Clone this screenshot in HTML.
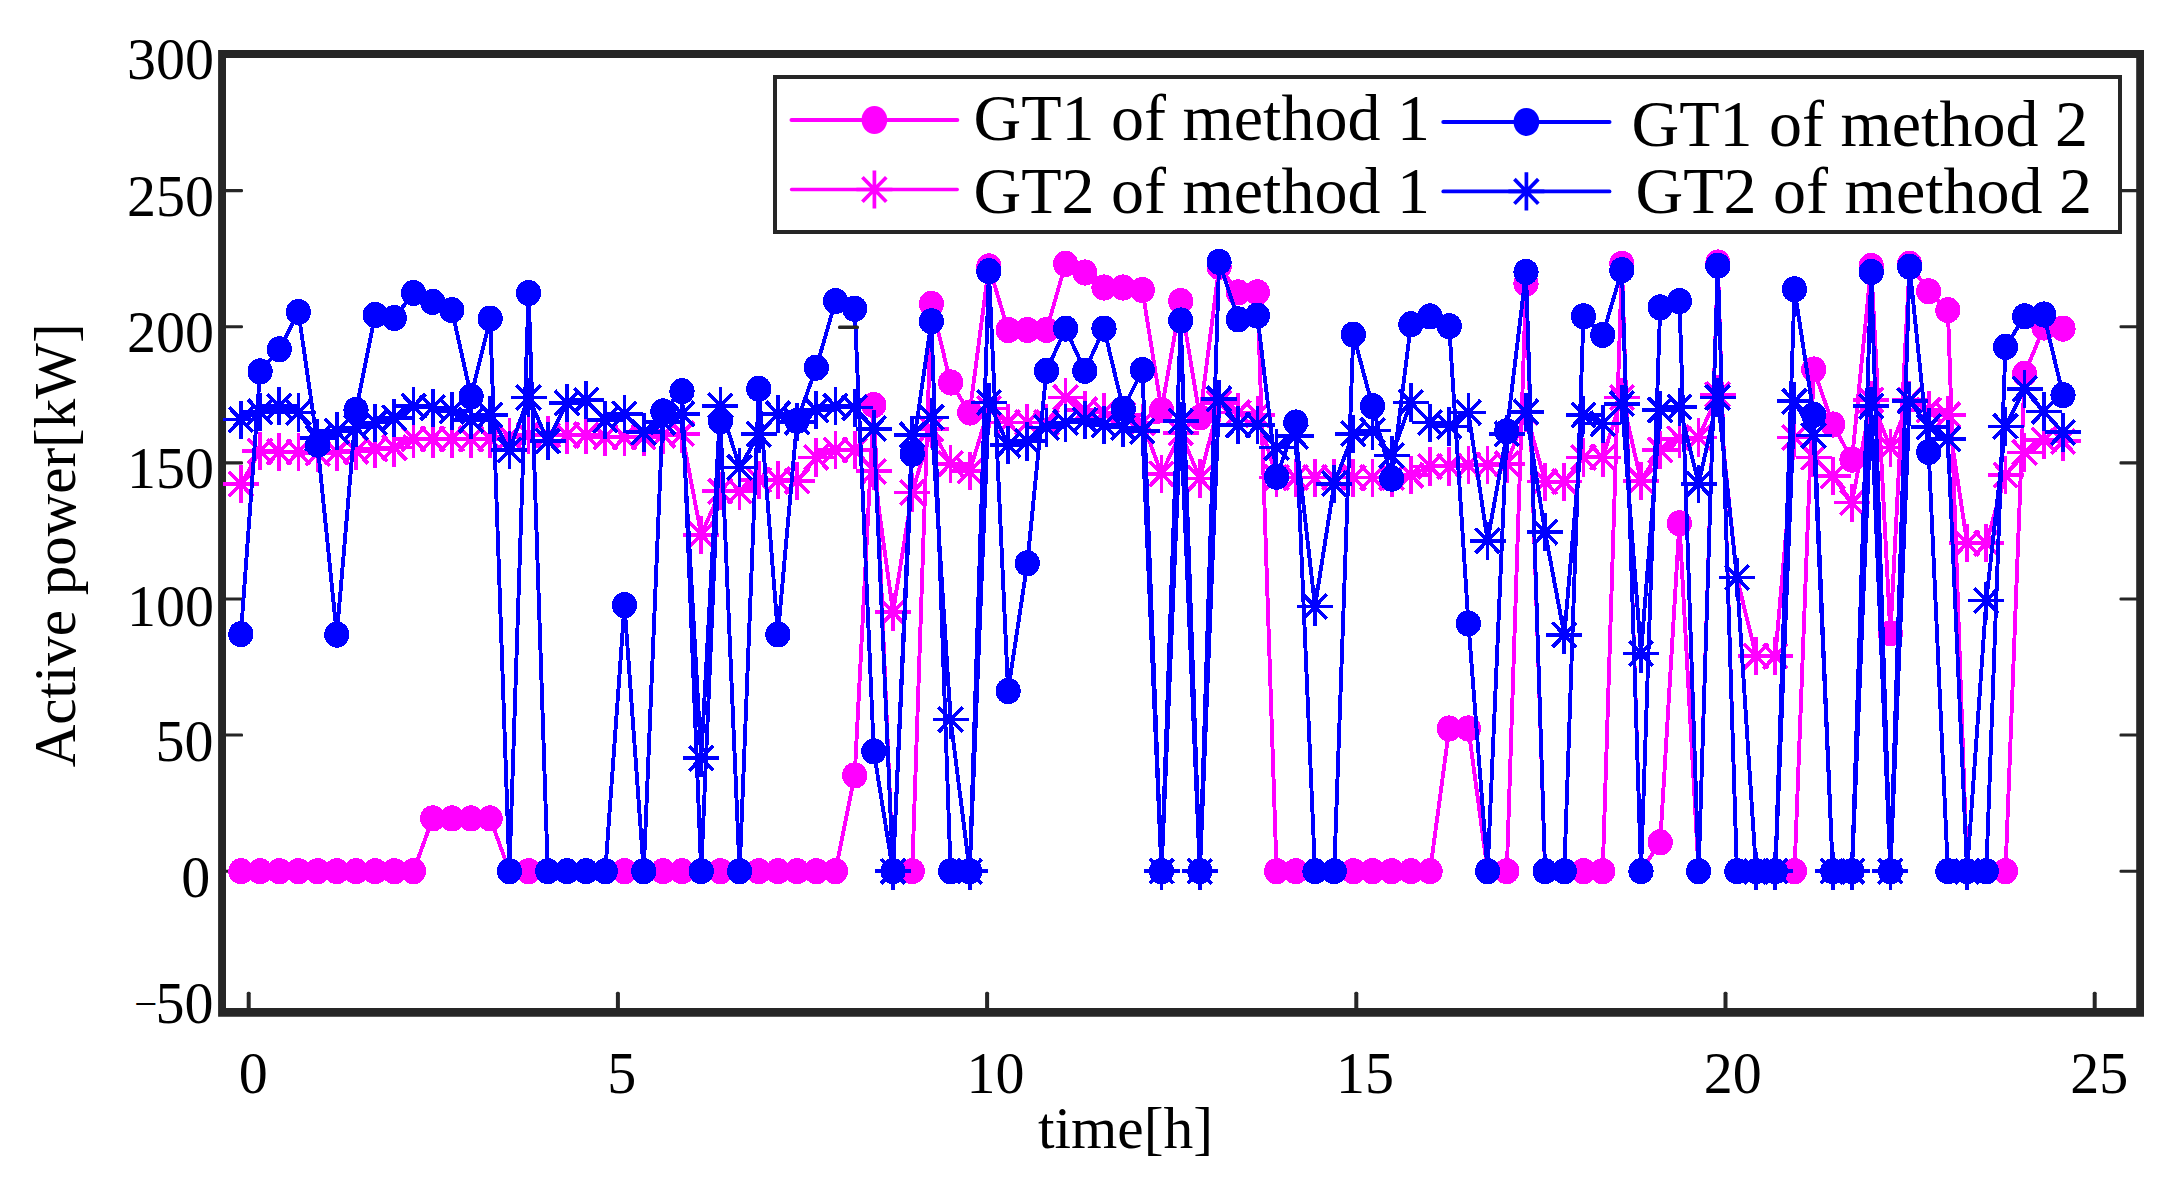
<!DOCTYPE html>
<html lang="en"><head><meta charset="utf-8"><title>Active power of GT1 and GT2</title>
<style>html,body{margin:0;padding:0;background:#fff;}body{width:2179px;height:1192px;overflow:hidden;}svg{display:block;}text{font-family:"Liberation Serif","Times New Roman",serif;fill:#000;}</style></head><body>
<svg width="2179" height="1192" viewBox="0 0 2179 1192">
<rect x="0" y="0" width="2179" height="1192" fill="#fff"/>
<path d="M218.1 50.1H2144V1016.8H218.1Z M226 57.9V1008.1H2136.2V57.9Z" fill="#262626" fill-rule="evenodd"/>
<rect x="246.7" y="991.8" width="4.0" height="18.0" rx="1.5" fill="#262626"/>
<rect x="615.9" y="991.8" width="4.0" height="18.0" rx="1.5" fill="#262626"/>
<rect x="985.1" y="991.8" width="4.0" height="18.0" rx="1.5" fill="#262626"/>
<rect x="1354.3" y="991.8" width="4.0" height="18.0" rx="1.5" fill="#262626"/>
<rect x="1723.5" y="991.8" width="4.0" height="18.0" rx="1.5" fill="#262626"/>
<rect x="2092.7" y="991.8" width="4.0" height="18.0" rx="1.5" fill="#262626"/>
<rect x="224.0" y="869.7" width="19.0" height="3.1" rx="1.2" fill="#262626"/>
<rect x="2119.5" y="869.7" width="19.0" height="3.1" rx="1.2" fill="#262626"/>
<rect x="224.0" y="733.5" width="19.0" height="3.1" rx="1.2" fill="#262626"/>
<rect x="2119.5" y="733.5" width="19.0" height="3.1" rx="1.2" fill="#262626"/>
<rect x="224.0" y="597.4" width="19.0" height="3.1" rx="1.2" fill="#262626"/>
<rect x="2119.5" y="597.4" width="19.0" height="3.1" rx="1.2" fill="#262626"/>
<rect x="224.0" y="461.3" width="19.0" height="3.1" rx="1.2" fill="#262626"/>
<rect x="2119.5" y="461.3" width="19.0" height="3.1" rx="1.2" fill="#262626"/>
<rect x="224.0" y="325.2" width="19.0" height="3.1" rx="1.2" fill="#262626"/>
<rect x="2119.5" y="325.2" width="19.0" height="3.1" rx="1.2" fill="#262626"/>
<rect x="224.0" y="189.1" width="19.0" height="3.1" rx="1.2" fill="#262626"/>
<rect x="2119.5" y="189.1" width="19.0" height="3.1" rx="1.2" fill="#262626"/>
<g shape-rendering="crispEdges">
<g stroke="#ff00ff" fill="#ff00ff">
<polyline points="240.9,871.2 260.1,871.2 279.3,871.2 298.4,871.2 317.6,871.2 336.8,871.2 356.0,871.2 375.2,871.2 394.3,871.2 413.5,871.2 432.7,818.4 451.9,818.4 471.1,818.4 490.2,818.4 509.4,871.2 528.6,871.2 547.8,871.2 567.0,871.2 586.1,871.2 605.3,871.2 624.5,871.2 643.7,871.2 662.9,871.2 682.0,871.2 701.2,871.2 720.4,871.2 739.6,871.2 758.8,871.2 777.9,871.2 797.1,871.2 816.3,871.2 835.5,871.2 854.7,775.4 873.8,405.1 893.0,871.2 912.2,871.2 931.4,303.9 950.6,382.5 969.7,412.5 988.9,266.3 1008.1,330.0 1027.3,330.0 1046.5,330.0 1065.6,263.8 1084.8,272.5 1104.0,287.5 1123.2,287.5 1142.4,290.0 1161.5,410.0 1180.7,301.1 1199.9,417.4 1219.1,266.8 1238.3,292.4 1257.4,292.4 1276.6,871.2 1295.8,871.2 1315.0,871.2 1334.2,871.2 1353.3,871.2 1372.5,871.2 1391.7,871.2 1410.9,871.2 1430.1,871.2 1449.2,728.5 1468.4,728.5 1487.6,871.2 1506.8,871.2 1526.0,283.7 1545.1,871.2 1564.3,871.2 1583.5,871.2 1602.7,871.2 1621.9,263.8 1641.0,871.2 1660.2,842.3 1679.4,523.3 1698.6,871.2 1717.8,262.5 1736.9,871.2 1756.1,871.2 1775.3,871.2 1794.5,871.2 1813.7,369.5 1832.8,424.5 1852.0,459.6 1871.2,266.0 1890.4,633.3 1909.6,263.8 1928.7,291.3 1947.9,310.1 1967.1,871.2 1986.3,871.2 2005.5,871.2 2024.6,373.8 2043.8,327.5 2063.0,328.6" fill="none" stroke-width="3.90" stroke-linejoin="round"/>
<ellipse cx="240.9" cy="871.2" rx="12.6" ry="13.1" stroke="none"/>
<ellipse cx="260.1" cy="871.2" rx="12.6" ry="13.1" stroke="none"/>
<ellipse cx="279.3" cy="871.2" rx="12.6" ry="13.1" stroke="none"/>
<ellipse cx="298.4" cy="871.2" rx="12.6" ry="13.1" stroke="none"/>
<ellipse cx="317.6" cy="871.2" rx="12.6" ry="13.1" stroke="none"/>
<ellipse cx="336.8" cy="871.2" rx="12.6" ry="13.1" stroke="none"/>
<ellipse cx="356.0" cy="871.2" rx="12.6" ry="13.1" stroke="none"/>
<ellipse cx="375.2" cy="871.2" rx="12.6" ry="13.1" stroke="none"/>
<ellipse cx="394.3" cy="871.2" rx="12.6" ry="13.1" stroke="none"/>
<ellipse cx="413.5" cy="871.2" rx="12.6" ry="13.1" stroke="none"/>
<ellipse cx="432.7" cy="818.4" rx="12.6" ry="13.1" stroke="none"/>
<ellipse cx="451.9" cy="818.4" rx="12.6" ry="13.1" stroke="none"/>
<ellipse cx="471.1" cy="818.4" rx="12.6" ry="13.1" stroke="none"/>
<ellipse cx="490.2" cy="818.4" rx="12.6" ry="13.1" stroke="none"/>
<ellipse cx="509.4" cy="871.2" rx="12.6" ry="13.1" stroke="none"/>
<ellipse cx="528.6" cy="871.2" rx="12.6" ry="13.1" stroke="none"/>
<ellipse cx="547.8" cy="871.2" rx="12.6" ry="13.1" stroke="none"/>
<ellipse cx="567.0" cy="871.2" rx="12.6" ry="13.1" stroke="none"/>
<ellipse cx="586.1" cy="871.2" rx="12.6" ry="13.1" stroke="none"/>
<ellipse cx="605.3" cy="871.2" rx="12.6" ry="13.1" stroke="none"/>
<ellipse cx="624.5" cy="871.2" rx="12.6" ry="13.1" stroke="none"/>
<ellipse cx="643.7" cy="871.2" rx="12.6" ry="13.1" stroke="none"/>
<ellipse cx="662.9" cy="871.2" rx="12.6" ry="13.1" stroke="none"/>
<ellipse cx="682.0" cy="871.2" rx="12.6" ry="13.1" stroke="none"/>
<ellipse cx="701.2" cy="871.2" rx="12.6" ry="13.1" stroke="none"/>
<ellipse cx="720.4" cy="871.2" rx="12.6" ry="13.1" stroke="none"/>
<ellipse cx="739.6" cy="871.2" rx="12.6" ry="13.1" stroke="none"/>
<ellipse cx="758.8" cy="871.2" rx="12.6" ry="13.1" stroke="none"/>
<ellipse cx="777.9" cy="871.2" rx="12.6" ry="13.1" stroke="none"/>
<ellipse cx="797.1" cy="871.2" rx="12.6" ry="13.1" stroke="none"/>
<ellipse cx="816.3" cy="871.2" rx="12.6" ry="13.1" stroke="none"/>
<ellipse cx="835.5" cy="871.2" rx="12.6" ry="13.1" stroke="none"/>
<ellipse cx="854.7" cy="775.4" rx="12.6" ry="13.1" stroke="none"/>
<ellipse cx="873.8" cy="405.1" rx="12.6" ry="13.1" stroke="none"/>
<ellipse cx="893.0" cy="871.2" rx="12.6" ry="13.1" stroke="none"/>
<ellipse cx="912.2" cy="871.2" rx="12.6" ry="13.1" stroke="none"/>
<ellipse cx="931.4" cy="303.9" rx="12.6" ry="13.1" stroke="none"/>
<ellipse cx="950.6" cy="382.5" rx="12.6" ry="13.1" stroke="none"/>
<ellipse cx="969.7" cy="412.5" rx="12.6" ry="13.1" stroke="none"/>
<ellipse cx="988.9" cy="266.3" rx="12.6" ry="13.1" stroke="none"/>
<ellipse cx="1008.1" cy="330.0" rx="12.6" ry="13.1" stroke="none"/>
<ellipse cx="1027.3" cy="330.0" rx="12.6" ry="13.1" stroke="none"/>
<ellipse cx="1046.5" cy="330.0" rx="12.6" ry="13.1" stroke="none"/>
<ellipse cx="1065.6" cy="263.8" rx="12.6" ry="13.1" stroke="none"/>
<ellipse cx="1084.8" cy="272.5" rx="12.6" ry="13.1" stroke="none"/>
<ellipse cx="1104.0" cy="287.5" rx="12.6" ry="13.1" stroke="none"/>
<ellipse cx="1123.2" cy="287.5" rx="12.6" ry="13.1" stroke="none"/>
<ellipse cx="1142.4" cy="290.0" rx="12.6" ry="13.1" stroke="none"/>
<ellipse cx="1161.5" cy="410.0" rx="12.6" ry="13.1" stroke="none"/>
<ellipse cx="1180.7" cy="301.1" rx="12.6" ry="13.1" stroke="none"/>
<ellipse cx="1199.9" cy="417.4" rx="12.6" ry="13.1" stroke="none"/>
<ellipse cx="1219.1" cy="266.8" rx="12.6" ry="13.1" stroke="none"/>
<ellipse cx="1238.3" cy="292.4" rx="12.6" ry="13.1" stroke="none"/>
<ellipse cx="1257.4" cy="292.4" rx="12.6" ry="13.1" stroke="none"/>
<ellipse cx="1276.6" cy="871.2" rx="12.6" ry="13.1" stroke="none"/>
<ellipse cx="1295.8" cy="871.2" rx="12.6" ry="13.1" stroke="none"/>
<ellipse cx="1315.0" cy="871.2" rx="12.6" ry="13.1" stroke="none"/>
<ellipse cx="1334.2" cy="871.2" rx="12.6" ry="13.1" stroke="none"/>
<ellipse cx="1353.3" cy="871.2" rx="12.6" ry="13.1" stroke="none"/>
<ellipse cx="1372.5" cy="871.2" rx="12.6" ry="13.1" stroke="none"/>
<ellipse cx="1391.7" cy="871.2" rx="12.6" ry="13.1" stroke="none"/>
<ellipse cx="1410.9" cy="871.2" rx="12.6" ry="13.1" stroke="none"/>
<ellipse cx="1430.1" cy="871.2" rx="12.6" ry="13.1" stroke="none"/>
<ellipse cx="1449.2" cy="728.5" rx="12.6" ry="13.1" stroke="none"/>
<ellipse cx="1468.4" cy="728.5" rx="12.6" ry="13.1" stroke="none"/>
<ellipse cx="1487.6" cy="871.2" rx="12.6" ry="13.1" stroke="none"/>
<ellipse cx="1506.8" cy="871.2" rx="12.6" ry="13.1" stroke="none"/>
<ellipse cx="1526.0" cy="283.7" rx="12.6" ry="13.1" stroke="none"/>
<ellipse cx="1545.1" cy="871.2" rx="12.6" ry="13.1" stroke="none"/>
<ellipse cx="1564.3" cy="871.2" rx="12.6" ry="13.1" stroke="none"/>
<ellipse cx="1583.5" cy="871.2" rx="12.6" ry="13.1" stroke="none"/>
<ellipse cx="1602.7" cy="871.2" rx="12.6" ry="13.1" stroke="none"/>
<ellipse cx="1621.9" cy="263.8" rx="12.6" ry="13.1" stroke="none"/>
<ellipse cx="1641.0" cy="871.2" rx="12.6" ry="13.1" stroke="none"/>
<ellipse cx="1660.2" cy="842.3" rx="12.6" ry="13.1" stroke="none"/>
<ellipse cx="1679.4" cy="523.3" rx="12.6" ry="13.1" stroke="none"/>
<ellipse cx="1698.6" cy="871.2" rx="12.6" ry="13.1" stroke="none"/>
<ellipse cx="1717.8" cy="262.5" rx="12.6" ry="13.1" stroke="none"/>
<ellipse cx="1736.9" cy="871.2" rx="12.6" ry="13.1" stroke="none"/>
<ellipse cx="1756.1" cy="871.2" rx="12.6" ry="13.1" stroke="none"/>
<ellipse cx="1775.3" cy="871.2" rx="12.6" ry="13.1" stroke="none"/>
<ellipse cx="1794.5" cy="871.2" rx="12.6" ry="13.1" stroke="none"/>
<ellipse cx="1813.7" cy="369.5" rx="12.6" ry="13.1" stroke="none"/>
<ellipse cx="1832.8" cy="424.5" rx="12.6" ry="13.1" stroke="none"/>
<ellipse cx="1852.0" cy="459.6" rx="12.6" ry="13.1" stroke="none"/>
<ellipse cx="1871.2" cy="266.0" rx="12.6" ry="13.1" stroke="none"/>
<ellipse cx="1890.4" cy="633.3" rx="12.6" ry="13.1" stroke="none"/>
<ellipse cx="1909.6" cy="263.8" rx="12.6" ry="13.1" stroke="none"/>
<ellipse cx="1928.7" cy="291.3" rx="12.6" ry="13.1" stroke="none"/>
<ellipse cx="1947.9" cy="310.1" rx="12.6" ry="13.1" stroke="none"/>
<ellipse cx="1967.1" cy="871.2" rx="12.6" ry="13.1" stroke="none"/>
<ellipse cx="1986.3" cy="871.2" rx="12.6" ry="13.1" stroke="none"/>
<ellipse cx="2005.5" cy="871.2" rx="12.6" ry="13.1" stroke="none"/>
<ellipse cx="2024.6" cy="373.8" rx="12.6" ry="13.1" stroke="none"/>
<ellipse cx="2043.8" cy="327.5" rx="12.6" ry="13.1" stroke="none"/>
<ellipse cx="2063.0" cy="328.6" rx="12.6" ry="13.1" stroke="none"/>
</g>
<g stroke="#ff00ff" fill="#ff00ff">
<polyline points="240.9,484.1 260.1,451.1 279.3,452.0 298.4,452.0 317.6,453.3 336.8,452.0 356.0,451.1 375.2,448.7 394.3,447.6 413.5,438.9 432.7,438.9 451.9,438.9 471.1,438.9 490.2,438.9 509.4,437.0 528.6,435.1 547.8,435.1 567.0,435.1 586.1,435.1 605.3,437.0 624.5,437.0 643.7,437.0 662.9,435.1 682.0,433.7 701.2,534.7 720.4,491.2 739.6,491.2 758.8,480.0 777.9,480.0 797.1,481.1 816.3,457.4 835.5,450.0 854.7,450.0 873.8,471.3 893.0,612.3 912.2,492.5 931.4,428.8 950.6,463.7 969.7,471.3 988.9,408.4 1008.1,422.5 1027.3,422.5 1046.5,422.5 1065.6,397.5 1084.8,410.0 1104.0,412.5 1123.2,414.9 1142.4,422.5 1161.5,473.7 1180.7,432.9 1199.9,478.4 1219.1,402.9 1238.3,412.5 1257.4,414.9 1276.6,477.5 1295.8,477.5 1315.0,477.5 1334.2,477.5 1353.3,477.5 1372.5,477.5 1391.7,477.5 1410.9,475.1 1430.1,466.4 1449.2,466.4 1468.4,465.0 1487.6,465.0 1506.8,463.7 1526.0,412.5 1545.1,481.6 1564.3,481.6 1583.5,457.4 1602.7,457.4 1621.9,397.5 1641.0,480.8 1660.2,450.0 1679.4,438.9 1698.6,437.5 1717.8,394.5 1736.9,577.5 1756.1,656.1 1775.3,656.1 1794.5,437.5 1813.7,457.4 1832.8,476.2 1852.0,502.6 1871.2,400.2 1890.4,447.6 1909.6,400.2 1928.7,410.0 1947.9,414.9 1967.1,543.2 1986.3,543.2 2005.5,475.1 2024.6,452.5 2043.8,440.0 2063.0,441.3" fill="none" stroke-width="3.90" stroke-linejoin="round"/>
<path d="M222.9 484.1h36.0M240.9 465.0v38.2M228.9 471.8l23.9 24.6M228.9 496.4l23.9 -24.6M242.1 451.1h36.0M260.1 432.1v38.2M248.1 438.8l23.9 24.6M248.1 463.5l23.9 -24.6M261.3 452.0h36.0M279.3 432.9v38.2M267.3 439.6l23.9 24.6M267.3 464.3l23.9 -24.6M280.4 452.0h36.0M298.4 432.9v38.2M286.5 439.6l23.9 24.6M286.5 464.3l23.9 -24.6M299.6 453.3h36.0M317.6 434.2v38.2M305.7 441.0l23.9 24.6M305.7 465.6l23.9 -24.6M318.8 452.0h36.0M336.8 432.9v38.2M324.8 439.6l23.9 24.6M324.8 464.3l23.9 -24.6M338.0 451.1h36.0M356.0 432.1v38.2M344.0 438.8l23.9 24.6M344.0 463.5l23.9 -24.6M357.2 448.7h36.0M375.2 429.6v38.2M363.2 436.4l23.9 24.6M363.2 461.0l23.9 -24.6M376.3 447.6h36.0M394.3 428.5v38.2M382.4 435.3l23.9 24.6M382.4 459.9l23.9 -24.6M395.5 438.9h36.0M413.5 419.8v38.2M401.6 426.6l23.9 24.6M401.6 451.2l23.9 -24.6M414.7 438.9h36.0M432.7 419.8v38.2M420.7 426.6l23.9 24.6M420.7 451.2l23.9 -24.6M433.9 438.9h36.0M451.9 419.8v38.2M439.9 426.6l23.9 24.6M439.9 451.2l23.9 -24.6M453.1 438.9h36.0M471.1 419.8v38.2M459.1 426.6l23.9 24.6M459.1 451.2l23.9 -24.6M472.2 438.9h36.0M490.2 419.8v38.2M478.3 426.6l23.9 24.6M478.3 451.2l23.9 -24.6M491.4 437.0h36.0M509.4 417.9v38.2M497.5 424.7l23.9 24.6M497.5 449.3l23.9 -24.6M510.6 435.1h36.0M528.6 416.0v38.2M516.6 422.7l23.9 24.6M516.6 447.4l23.9 -24.6M529.8 435.1h36.0M547.8 416.0v38.2M535.8 422.7l23.9 24.6M535.8 447.4l23.9 -24.6M549.0 435.1h36.0M567.0 416.0v38.2M555.0 422.7l23.9 24.6M555.0 447.4l23.9 -24.6M568.1 435.1h36.0M586.1 416.0v38.2M574.2 422.7l23.9 24.6M574.2 447.4l23.9 -24.6M587.3 437.0h36.0M605.3 417.9v38.2M593.4 424.7l23.9 24.6M593.4 449.3l23.9 -24.6M606.5 437.0h36.0M624.5 417.9v38.2M612.5 424.7l23.9 24.6M612.5 449.3l23.9 -24.6M625.7 437.0h36.0M643.7 417.9v38.2M631.7 424.7l23.9 24.6M631.7 449.3l23.9 -24.6M644.9 435.1h36.0M662.9 416.0v38.2M650.9 422.7l23.9 24.6M650.9 447.4l23.9 -24.6M664.0 433.7h36.0M682.0 414.6v38.2M670.1 421.4l23.9 24.6M670.1 446.0l23.9 -24.6M683.2 534.7h36.0M701.2 515.6v38.2M689.3 522.4l23.9 24.6M689.3 547.0l23.9 -24.6M702.4 491.2h36.0M720.4 472.1v38.2M708.4 478.8l23.9 24.6M708.4 503.5l23.9 -24.6M721.6 491.2h36.0M739.6 472.1v38.2M727.6 478.8l23.9 24.6M727.6 503.5l23.9 -24.6M740.8 480.0h36.0M758.8 460.9v38.2M746.8 467.7l23.9 24.6M746.8 492.3l23.9 -24.6M759.9 480.0h36.0M777.9 460.9v38.2M766.0 467.7l23.9 24.6M766.0 492.3l23.9 -24.6M779.1 481.1h36.0M797.1 462.0v38.2M785.2 468.8l23.9 24.6M785.2 493.4l23.9 -24.6M798.3 457.4h36.0M816.3 438.3v38.2M804.3 445.1l23.9 24.6M804.3 469.7l23.9 -24.6M817.5 450.0h36.0M835.5 431.0v38.2M823.5 437.7l23.9 24.6M823.5 462.4l23.9 -24.6M836.7 450.0h36.0M854.7 431.0v38.2M842.7 437.7l23.9 24.6M842.7 462.4l23.9 -24.6M855.8 471.3h36.0M873.8 452.2v38.2M861.9 459.0l23.9 24.6M861.9 483.6l23.9 -24.6M875.0 612.3h36.0M893.0 593.2v38.2M881.1 600.0l23.9 24.6M881.1 624.6l23.9 -24.6M894.2 492.5h36.0M912.2 473.4v38.2M900.2 480.2l23.9 24.6M900.2 504.8l23.9 -24.6M913.4 428.8h36.0M931.4 409.7v38.2M919.4 416.5l23.9 24.6M919.4 441.1l23.9 -24.6M932.6 463.7h36.0M950.6 444.6v38.2M938.6 451.3l23.9 24.6M938.6 476.0l23.9 -24.6M951.7 471.3h36.0M969.7 452.2v38.2M957.8 459.0l23.9 24.6M957.8 483.6l23.9 -24.6M970.9 408.4h36.0M988.9 389.3v38.2M977.0 396.1l23.9 24.6M977.0 420.7l23.9 -24.6M990.1 422.5h36.0M1008.1 403.5v38.2M996.1 410.2l23.9 24.6M996.1 434.9l23.9 -24.6M1009.3 422.5h36.0M1027.3 403.5v38.2M1015.3 410.2l23.9 24.6M1015.3 434.9l23.9 -24.6M1028.5 422.5h36.0M1046.5 403.5v38.2M1034.5 410.2l23.9 24.6M1034.5 434.9l23.9 -24.6M1047.6 397.5h36.0M1065.6 378.4v38.2M1053.7 385.2l23.9 24.6M1053.7 409.8l23.9 -24.6M1066.8 410.0h36.0M1084.8 390.9v38.2M1072.9 397.7l23.9 24.6M1072.9 422.3l23.9 -24.6M1086.0 412.5h36.0M1104.0 393.4v38.2M1092.0 400.2l23.9 24.6M1092.0 424.8l23.9 -24.6M1105.2 414.9h36.0M1123.2 395.8v38.2M1111.2 402.6l23.9 24.6M1111.2 427.2l23.9 -24.6M1124.4 422.5h36.0M1142.4 403.5v38.2M1130.4 410.2l23.9 24.6M1130.4 434.9l23.9 -24.6M1143.5 473.7h36.0M1161.5 454.6v38.2M1149.6 461.4l23.9 24.6M1149.6 486.1l23.9 -24.6M1162.7 432.9h36.0M1180.7 413.8v38.2M1168.8 420.6l23.9 24.6M1168.8 445.2l23.9 -24.6M1181.9 478.4h36.0M1199.9 459.3v38.2M1187.9 466.0l23.9 24.6M1187.9 490.7l23.9 -24.6M1201.1 402.9h36.0M1219.1 383.9v38.2M1207.1 390.6l23.9 24.6M1207.1 415.3l23.9 -24.6M1220.3 412.5h36.0M1238.3 393.4v38.2M1226.3 400.2l23.9 24.6M1226.3 424.8l23.9 -24.6M1239.4 414.9h36.0M1257.4 395.8v38.2M1245.5 402.6l23.9 24.6M1245.5 427.2l23.9 -24.6M1258.6 477.5h36.0M1276.6 458.5v38.2M1264.7 465.2l23.9 24.6M1264.7 489.9l23.9 -24.6M1277.8 477.5h36.0M1295.8 458.5v38.2M1283.8 465.2l23.9 24.6M1283.8 489.9l23.9 -24.6M1297.0 477.5h36.0M1315.0 458.5v38.2M1303.0 465.2l23.9 24.6M1303.0 489.9l23.9 -24.6M1316.2 477.5h36.0M1334.2 458.5v38.2M1322.2 465.2l23.9 24.6M1322.2 489.9l23.9 -24.6M1335.3 477.5h36.0M1353.3 458.5v38.2M1341.4 465.2l23.9 24.6M1341.4 489.9l23.9 -24.6M1354.5 477.5h36.0M1372.5 458.5v38.2M1360.6 465.2l23.9 24.6M1360.6 489.9l23.9 -24.6M1373.7 477.5h36.0M1391.7 458.5v38.2M1379.7 465.2l23.9 24.6M1379.7 489.9l23.9 -24.6M1392.9 475.1h36.0M1410.9 456.0v38.2M1398.9 462.8l23.9 24.6M1398.9 487.4l23.9 -24.6M1412.1 466.4h36.0M1430.1 447.3v38.2M1418.1 454.1l23.9 24.6M1418.1 478.7l23.9 -24.6M1431.2 466.4h36.0M1449.2 447.3v38.2M1437.3 454.1l23.9 24.6M1437.3 478.7l23.9 -24.6M1450.4 465.0h36.0M1468.4 445.9v38.2M1456.5 452.7l23.9 24.6M1456.5 477.3l23.9 -24.6M1469.6 465.0h36.0M1487.6 445.9v38.2M1475.6 452.7l23.9 24.6M1475.6 477.3l23.9 -24.6M1488.8 463.7h36.0M1506.8 444.6v38.2M1494.8 451.3l23.9 24.6M1494.8 476.0l23.9 -24.6M1508.0 412.5h36.0M1526.0 393.4v38.2M1514.0 400.2l23.9 24.6M1514.0 424.8l23.9 -24.6M1527.1 481.6h36.0M1545.1 462.5v38.2M1533.2 469.3l23.9 24.6M1533.2 493.9l23.9 -24.6M1546.3 481.6h36.0M1564.3 462.5v38.2M1552.4 469.3l23.9 24.6M1552.4 493.9l23.9 -24.6M1565.5 457.4h36.0M1583.5 438.3v38.2M1571.5 445.1l23.9 24.6M1571.5 469.7l23.9 -24.6M1584.7 457.4h36.0M1602.7 438.3v38.2M1590.7 445.1l23.9 24.6M1590.7 469.7l23.9 -24.6M1603.9 397.5h36.0M1621.9 378.4v38.2M1609.9 385.2l23.9 24.6M1609.9 409.8l23.9 -24.6M1623.0 480.8h36.0M1641.0 461.7v38.2M1629.1 468.5l23.9 24.6M1629.1 493.1l23.9 -24.6M1642.2 450.0h36.0M1660.2 431.0v38.2M1648.3 437.7l23.9 24.6M1648.3 462.4l23.9 -24.6M1661.4 438.9h36.0M1679.4 419.8v38.2M1667.4 426.6l23.9 24.6M1667.4 451.2l23.9 -24.6M1680.6 437.5h36.0M1698.6 418.4v38.2M1686.6 425.2l23.9 24.6M1686.6 449.8l23.9 -24.6M1699.8 394.5h36.0M1717.8 375.4v38.2M1705.8 382.2l23.9 24.6M1705.8 406.8l23.9 -24.6M1718.9 577.5h36.0M1736.9 558.4v38.2M1725.0 565.1l23.9 24.6M1725.0 589.8l23.9 -24.6M1738.1 656.1h36.0M1756.1 637.1v38.2M1744.2 643.8l23.9 24.6M1744.2 668.5l23.9 -24.6M1757.3 656.1h36.0M1775.3 637.1v38.2M1763.3 643.8l23.9 24.6M1763.3 668.5l23.9 -24.6M1776.5 437.5h36.0M1794.5 418.4v38.2M1782.5 425.2l23.9 24.6M1782.5 449.8l23.9 -24.6M1795.7 457.4h36.0M1813.7 438.3v38.2M1801.7 445.1l23.9 24.6M1801.7 469.7l23.9 -24.6M1814.8 476.2h36.0M1832.8 457.1v38.2M1820.9 463.9l23.9 24.6M1820.9 488.5l23.9 -24.6M1834.0 502.6h36.0M1852.0 483.5v38.2M1840.1 490.3l23.9 24.6M1840.1 514.9l23.9 -24.6M1853.2 400.2h36.0M1871.2 381.1v38.2M1859.2 387.9l23.9 24.6M1859.2 412.5l23.9 -24.6M1872.4 447.6h36.0M1890.4 428.5v38.2M1878.4 435.3l23.9 24.6M1878.4 459.9l23.9 -24.6M1891.6 400.2h36.0M1909.6 381.1v38.2M1897.6 387.9l23.9 24.6M1897.6 412.5l23.9 -24.6M1910.7 410.0h36.0M1928.7 390.9v38.2M1916.8 397.7l23.9 24.6M1916.8 422.3l23.9 -24.6M1929.9 414.9h36.0M1947.9 395.8v38.2M1936.0 402.6l23.9 24.6M1936.0 427.2l23.9 -24.6M1949.1 543.2h36.0M1967.1 524.1v38.2M1955.1 530.8l23.9 24.6M1955.1 555.5l23.9 -24.6M1968.3 543.2h36.0M1986.3 524.1v38.2M1974.3 530.8l23.9 24.6M1974.3 555.5l23.9 -24.6M1987.5 475.1h36.0M2005.5 456.0v38.2M1993.5 462.8l23.9 24.6M1993.5 487.4l23.9 -24.6M2006.6 452.5h36.0M2024.6 433.4v38.2M2012.7 440.2l23.9 24.6M2012.7 464.8l23.9 -24.6M2025.8 440.0h36.0M2043.8 420.9v38.2M2031.9 427.6l23.9 24.6M2031.9 452.3l23.9 -24.6M2045.0 441.3h36.0M2063.0 422.3v38.2M2051.0 429.0l23.9 24.6M2051.0 453.7l23.9 -24.6" fill="none" stroke-width="3.70"/>
</g>
<g stroke="#0000ff" fill="#0000ff">
<polyline points="240.9,634.1 260.1,371.4 279.3,349.3 298.4,312.0 317.6,444.6 336.8,634.6 356.0,410.0 375.2,315.0 394.3,318.0 413.5,293.0 432.7,301.9 451.9,310.1 471.1,396.4 490.2,318.6 509.4,871.2 528.6,293.0 547.8,871.2 567.0,871.2 586.1,871.2 605.3,871.2 624.5,605.2 643.7,871.2 662.9,411.4 682.0,391.2 701.2,871.2 720.4,421.2 739.6,871.2 758.8,388.8 777.9,634.4 797.1,420.9 816.3,367.6 835.5,301.1 854.7,308.8 873.8,751.4 893.0,871.2 912.2,453.9 931.4,321.3 950.6,871.2 969.7,871.2 988.9,271.2 1008.1,691.0 1027.3,563.3 1046.5,370.8 1065.6,328.6 1084.8,370.8 1104.0,328.6 1123.2,408.7 1142.4,370.0 1161.5,871.2 1180.7,320.5 1199.9,871.2 1219.1,261.9 1238.3,319.4 1257.4,315.6 1276.6,476.7 1295.8,422.5 1315.0,871.2 1334.2,871.2 1353.3,334.6 1372.5,406.2 1391.7,478.6 1410.9,324.3 1430.1,316.4 1449.2,326.2 1468.4,623.5 1487.6,871.2 1506.8,431.3 1526.0,272.0 1545.1,871.2 1564.3,871.2 1583.5,316.4 1602.7,334.9 1621.9,270.1 1641.0,871.2 1660.2,307.4 1679.4,301.1 1698.6,871.2 1717.8,265.7 1736.9,871.2 1756.1,871.2 1775.3,871.2 1794.5,289.4 1813.7,414.9 1832.8,871.2 1852.0,871.2 1871.2,272.0 1890.4,871.2 1909.6,266.6 1928.7,452.0 1947.9,871.2 1967.1,871.2 1986.3,871.2 2005.5,346.9 2024.6,316.4 2043.8,314.5 2063.0,395.1" fill="none" stroke-width="3.90" stroke-linejoin="round"/>
<ellipse cx="240.9" cy="634.1" rx="12.6" ry="13.1" stroke="none"/>
<ellipse cx="260.1" cy="371.4" rx="12.6" ry="13.1" stroke="none"/>
<ellipse cx="279.3" cy="349.3" rx="12.6" ry="13.1" stroke="none"/>
<ellipse cx="298.4" cy="312.0" rx="12.6" ry="13.1" stroke="none"/>
<ellipse cx="317.6" cy="444.6" rx="12.6" ry="13.1" stroke="none"/>
<ellipse cx="336.8" cy="634.6" rx="12.6" ry="13.1" stroke="none"/>
<ellipse cx="356.0" cy="410.0" rx="12.6" ry="13.1" stroke="none"/>
<ellipse cx="375.2" cy="315.0" rx="12.6" ry="13.1" stroke="none"/>
<ellipse cx="394.3" cy="318.0" rx="12.6" ry="13.1" stroke="none"/>
<ellipse cx="413.5" cy="293.0" rx="12.6" ry="13.1" stroke="none"/>
<ellipse cx="432.7" cy="301.9" rx="12.6" ry="13.1" stroke="none"/>
<ellipse cx="451.9" cy="310.1" rx="12.6" ry="13.1" stroke="none"/>
<ellipse cx="471.1" cy="396.4" rx="12.6" ry="13.1" stroke="none"/>
<ellipse cx="490.2" cy="318.6" rx="12.6" ry="13.1" stroke="none"/>
<ellipse cx="509.4" cy="871.2" rx="12.6" ry="13.1" stroke="none"/>
<ellipse cx="528.6" cy="293.0" rx="12.6" ry="13.1" stroke="none"/>
<ellipse cx="547.8" cy="871.2" rx="12.6" ry="13.1" stroke="none"/>
<ellipse cx="567.0" cy="871.2" rx="12.6" ry="13.1" stroke="none"/>
<ellipse cx="586.1" cy="871.2" rx="12.6" ry="13.1" stroke="none"/>
<ellipse cx="605.3" cy="871.2" rx="12.6" ry="13.1" stroke="none"/>
<ellipse cx="624.5" cy="605.2" rx="12.6" ry="13.1" stroke="none"/>
<ellipse cx="643.7" cy="871.2" rx="12.6" ry="13.1" stroke="none"/>
<ellipse cx="662.9" cy="411.4" rx="12.6" ry="13.1" stroke="none"/>
<ellipse cx="682.0" cy="391.2" rx="12.6" ry="13.1" stroke="none"/>
<ellipse cx="701.2" cy="871.2" rx="12.6" ry="13.1" stroke="none"/>
<ellipse cx="720.4" cy="421.2" rx="12.6" ry="13.1" stroke="none"/>
<ellipse cx="739.6" cy="871.2" rx="12.6" ry="13.1" stroke="none"/>
<ellipse cx="758.8" cy="388.8" rx="12.6" ry="13.1" stroke="none"/>
<ellipse cx="777.9" cy="634.4" rx="12.6" ry="13.1" stroke="none"/>
<ellipse cx="797.1" cy="420.9" rx="12.6" ry="13.1" stroke="none"/>
<ellipse cx="816.3" cy="367.6" rx="12.6" ry="13.1" stroke="none"/>
<ellipse cx="835.5" cy="301.1" rx="12.6" ry="13.1" stroke="none"/>
<ellipse cx="854.7" cy="308.8" rx="12.6" ry="13.1" stroke="none"/>
<ellipse cx="873.8" cy="751.4" rx="12.6" ry="13.1" stroke="none"/>
<ellipse cx="893.0" cy="871.2" rx="12.6" ry="13.1" stroke="none"/>
<ellipse cx="912.2" cy="453.9" rx="12.6" ry="13.1" stroke="none"/>
<ellipse cx="931.4" cy="321.3" rx="12.6" ry="13.1" stroke="none"/>
<ellipse cx="950.6" cy="871.2" rx="12.6" ry="13.1" stroke="none"/>
<ellipse cx="969.7" cy="871.2" rx="12.6" ry="13.1" stroke="none"/>
<ellipse cx="988.9" cy="271.2" rx="12.6" ry="13.1" stroke="none"/>
<ellipse cx="1008.1" cy="691.0" rx="12.6" ry="13.1" stroke="none"/>
<ellipse cx="1027.3" cy="563.3" rx="12.6" ry="13.1" stroke="none"/>
<ellipse cx="1046.5" cy="370.8" rx="12.6" ry="13.1" stroke="none"/>
<ellipse cx="1065.6" cy="328.6" rx="12.6" ry="13.1" stroke="none"/>
<ellipse cx="1084.8" cy="370.8" rx="12.6" ry="13.1" stroke="none"/>
<ellipse cx="1104.0" cy="328.6" rx="12.6" ry="13.1" stroke="none"/>
<ellipse cx="1123.2" cy="408.7" rx="12.6" ry="13.1" stroke="none"/>
<ellipse cx="1142.4" cy="370.0" rx="12.6" ry="13.1" stroke="none"/>
<ellipse cx="1161.5" cy="871.2" rx="12.6" ry="13.1" stroke="none"/>
<ellipse cx="1180.7" cy="320.5" rx="12.6" ry="13.1" stroke="none"/>
<ellipse cx="1199.9" cy="871.2" rx="12.6" ry="13.1" stroke="none"/>
<ellipse cx="1219.1" cy="261.9" rx="12.6" ry="13.1" stroke="none"/>
<ellipse cx="1238.3" cy="319.4" rx="12.6" ry="13.1" stroke="none"/>
<ellipse cx="1257.4" cy="315.6" rx="12.6" ry="13.1" stroke="none"/>
<ellipse cx="1276.6" cy="476.7" rx="12.6" ry="13.1" stroke="none"/>
<ellipse cx="1295.8" cy="422.5" rx="12.6" ry="13.1" stroke="none"/>
<ellipse cx="1315.0" cy="871.2" rx="12.6" ry="13.1" stroke="none"/>
<ellipse cx="1334.2" cy="871.2" rx="12.6" ry="13.1" stroke="none"/>
<ellipse cx="1353.3" cy="334.6" rx="12.6" ry="13.1" stroke="none"/>
<ellipse cx="1372.5" cy="406.2" rx="12.6" ry="13.1" stroke="none"/>
<ellipse cx="1391.7" cy="478.6" rx="12.6" ry="13.1" stroke="none"/>
<ellipse cx="1410.9" cy="324.3" rx="12.6" ry="13.1" stroke="none"/>
<ellipse cx="1430.1" cy="316.4" rx="12.6" ry="13.1" stroke="none"/>
<ellipse cx="1449.2" cy="326.2" rx="12.6" ry="13.1" stroke="none"/>
<ellipse cx="1468.4" cy="623.5" rx="12.6" ry="13.1" stroke="none"/>
<ellipse cx="1487.6" cy="871.2" rx="12.6" ry="13.1" stroke="none"/>
<ellipse cx="1506.8" cy="431.3" rx="12.6" ry="13.1" stroke="none"/>
<ellipse cx="1526.0" cy="272.0" rx="12.6" ry="13.1" stroke="none"/>
<ellipse cx="1545.1" cy="871.2" rx="12.6" ry="13.1" stroke="none"/>
<ellipse cx="1564.3" cy="871.2" rx="12.6" ry="13.1" stroke="none"/>
<ellipse cx="1583.5" cy="316.4" rx="12.6" ry="13.1" stroke="none"/>
<ellipse cx="1602.7" cy="334.9" rx="12.6" ry="13.1" stroke="none"/>
<ellipse cx="1621.9" cy="270.1" rx="12.6" ry="13.1" stroke="none"/>
<ellipse cx="1641.0" cy="871.2" rx="12.6" ry="13.1" stroke="none"/>
<ellipse cx="1660.2" cy="307.4" rx="12.6" ry="13.1" stroke="none"/>
<ellipse cx="1679.4" cy="301.1" rx="12.6" ry="13.1" stroke="none"/>
<ellipse cx="1698.6" cy="871.2" rx="12.6" ry="13.1" stroke="none"/>
<ellipse cx="1717.8" cy="265.7" rx="12.6" ry="13.1" stroke="none"/>
<ellipse cx="1736.9" cy="871.2" rx="12.6" ry="13.1" stroke="none"/>
<ellipse cx="1756.1" cy="871.2" rx="12.6" ry="13.1" stroke="none"/>
<ellipse cx="1775.3" cy="871.2" rx="12.6" ry="13.1" stroke="none"/>
<ellipse cx="1794.5" cy="289.4" rx="12.6" ry="13.1" stroke="none"/>
<ellipse cx="1813.7" cy="414.9" rx="12.6" ry="13.1" stroke="none"/>
<ellipse cx="1832.8" cy="871.2" rx="12.6" ry="13.1" stroke="none"/>
<ellipse cx="1852.0" cy="871.2" rx="12.6" ry="13.1" stroke="none"/>
<ellipse cx="1871.2" cy="272.0" rx="12.6" ry="13.1" stroke="none"/>
<ellipse cx="1890.4" cy="871.2" rx="12.6" ry="13.1" stroke="none"/>
<ellipse cx="1909.6" cy="266.6" rx="12.6" ry="13.1" stroke="none"/>
<ellipse cx="1928.7" cy="452.0" rx="12.6" ry="13.1" stroke="none"/>
<ellipse cx="1947.9" cy="871.2" rx="12.6" ry="13.1" stroke="none"/>
<ellipse cx="1967.1" cy="871.2" rx="12.6" ry="13.1" stroke="none"/>
<ellipse cx="1986.3" cy="871.2" rx="12.6" ry="13.1" stroke="none"/>
<ellipse cx="2005.5" cy="346.9" rx="12.6" ry="13.1" stroke="none"/>
<ellipse cx="2024.6" cy="316.4" rx="12.6" ry="13.1" stroke="none"/>
<ellipse cx="2043.8" cy="314.5" rx="12.6" ry="13.1" stroke="none"/>
<ellipse cx="2063.0" cy="395.1" rx="12.6" ry="13.1" stroke="none"/>
</g>
<g stroke="#0000ff" fill="#0000ff">
<polyline points="240.9,419.6 260.1,411.9 279.3,406.2 298.4,412.5 317.6,438.3 336.8,431.3 356.0,427.4 375.2,422.5 394.3,417.9 413.5,406.2 432.7,407.6 451.9,411.1 471.1,420.1 490.2,414.9 509.4,450.0 528.6,397.5 547.8,441.1 567.0,402.9 586.1,400.2 605.3,420.1 624.5,413.8 643.7,432.3 662.9,422.0 682.0,413.8 701.2,758.2 720.4,405.7 739.6,467.5 758.8,434.3 777.9,413.8 797.1,422.0 816.3,410.0 835.5,406.2 854.7,407.6 873.8,428.8 893.0,871.2 912.2,435.1 931.4,417.4 950.6,719.6 969.7,871.2 988.9,402.4 1008.1,445.1 1027.3,441.3 1046.5,427.4 1065.6,422.5 1084.8,420.1 1104.0,425.0 1123.2,427.4 1142.4,431.3 1161.5,871.2 1180.7,421.2 1199.9,871.2 1219.1,398.9 1238.3,425.0 1257.4,425.0 1276.6,447.6 1295.8,436.2 1315.0,606.6 1334.2,483.8 1353.3,433.7 1372.5,430.4 1391.7,455.5 1410.9,402.4 1430.1,422.5 1449.2,426.4 1468.4,412.5 1487.6,540.7 1506.8,433.7 1526.0,411.9 1545.1,532.3 1564.3,634.9 1583.5,414.9 1602.7,423.6 1621.9,403.8 1641.0,653.4 1660.2,410.0 1679.4,407.0 1698.6,483.8 1717.8,397.5 1736.9,577.5 1756.1,871.2 1775.3,871.2 1794.5,401.3 1813.7,435.6 1832.8,871.2 1852.0,871.2 1871.2,406.2 1890.4,871.2 1909.6,400.8 1928.7,426.9 1947.9,438.9 1967.1,871.2 1986.3,600.6 2005.5,426.4 2024.6,388.8 2043.8,411.4 2063.0,432.3" fill="none" stroke-width="3.90" stroke-linejoin="round"/>
<path d="M222.9 419.6h36.0M240.9 400.5v38.2M228.9 407.2l23.9 24.6M228.9 431.9l23.9 -24.6M242.1 411.9h36.0M260.1 392.9v38.2M248.1 399.6l23.9 24.6M248.1 424.3l23.9 -24.6M261.3 406.2h36.0M279.3 387.1v38.2M267.3 393.9l23.9 24.6M267.3 418.5l23.9 -24.6M280.4 412.5h36.0M298.4 393.4v38.2M286.5 400.2l23.9 24.6M286.5 424.8l23.9 -24.6M299.6 438.3h36.0M317.6 419.3v38.2M305.7 426.0l23.9 24.6M305.7 450.7l23.9 -24.6M318.8 431.3h36.0M336.8 412.2v38.2M324.8 418.9l23.9 24.6M324.8 443.6l23.9 -24.6M338.0 427.4h36.0M356.0 408.4v38.2M344.0 415.1l23.9 24.6M344.0 439.8l23.9 -24.6M357.2 422.5h36.0M375.2 403.5v38.2M363.2 410.2l23.9 24.6M363.2 434.9l23.9 -24.6M376.3 417.9h36.0M394.3 398.8v38.2M382.4 405.6l23.9 24.6M382.4 430.2l23.9 -24.6M395.5 406.2h36.0M413.5 387.1v38.2M401.6 393.9l23.9 24.6M401.6 418.5l23.9 -24.6M414.7 407.6h36.0M432.7 388.5v38.2M420.7 395.3l23.9 24.6M420.7 419.9l23.9 -24.6M433.9 411.1h36.0M451.9 392.0v38.2M439.9 398.8l23.9 24.6M439.9 423.4l23.9 -24.6M453.1 420.1h36.0M471.1 401.0v38.2M459.1 407.8l23.9 24.6M459.1 432.4l23.9 -24.6M472.2 414.9h36.0M490.2 395.8v38.2M478.3 402.6l23.9 24.6M478.3 427.2l23.9 -24.6M491.4 450.0h36.0M509.4 431.0v38.2M497.5 437.7l23.9 24.6M497.5 462.4l23.9 -24.6M510.6 397.5h36.0M528.6 378.4v38.2M516.6 385.2l23.9 24.6M516.6 409.8l23.9 -24.6M529.8 441.1h36.0M547.8 422.0v38.2M535.8 428.7l23.9 24.6M535.8 453.4l23.9 -24.6M549.0 402.9h36.0M567.0 383.9v38.2M555.0 390.6l23.9 24.6M555.0 415.3l23.9 -24.6M568.1 400.2h36.0M586.1 381.1v38.2M574.2 387.9l23.9 24.6M574.2 412.5l23.9 -24.6M587.3 420.1h36.0M605.3 401.0v38.2M593.4 407.8l23.9 24.6M593.4 432.4l23.9 -24.6M606.5 413.8h36.0M624.5 394.8v38.2M612.5 401.5l23.9 24.6M612.5 426.2l23.9 -24.6M625.7 432.3h36.0M643.7 413.3v38.2M631.7 420.0l23.9 24.6M631.7 444.7l23.9 -24.6M644.9 422.0h36.0M662.9 402.9v38.2M650.9 409.7l23.9 24.6M650.9 434.3l23.9 -24.6M664.0 413.8h36.0M682.0 394.8v38.2M670.1 401.5l23.9 24.6M670.1 426.2l23.9 -24.6M683.2 758.2h36.0M701.2 739.1v38.2M689.3 745.9l23.9 24.6M689.3 770.5l23.9 -24.6M702.4 405.7h36.0M720.4 386.6v38.2M708.4 393.3l23.9 24.6M708.4 418.0l23.9 -24.6M721.6 467.5h36.0M739.6 448.4v38.2M727.6 455.1l23.9 24.6M727.6 479.8l23.9 -24.6M740.8 434.3h36.0M758.8 415.2v38.2M746.8 421.9l23.9 24.6M746.8 446.6l23.9 -24.6M759.9 413.8h36.0M777.9 394.8v38.2M766.0 401.5l23.9 24.6M766.0 426.2l23.9 -24.6M779.1 422.0h36.0M797.1 402.9v38.2M785.2 409.7l23.9 24.6M785.2 434.3l23.9 -24.6M798.3 410.0h36.0M816.3 390.9v38.2M804.3 397.7l23.9 24.6M804.3 422.3l23.9 -24.6M817.5 406.2h36.0M835.5 387.1v38.2M823.5 393.9l23.9 24.6M823.5 418.5l23.9 -24.6M836.7 407.6h36.0M854.7 388.5v38.2M842.7 395.3l23.9 24.6M842.7 419.9l23.9 -24.6M855.8 428.8h36.0M873.8 409.7v38.2M861.9 416.5l23.9 24.6M861.9 441.1l23.9 -24.6M875.0 871.2h36.0M893.0 852.1v38.2M881.1 858.9l23.9 24.6M881.1 883.5l23.9 -24.6M894.2 435.1h36.0M912.2 416.0v38.2M900.2 422.7l23.9 24.6M900.2 447.4l23.9 -24.6M913.4 417.4h36.0M931.4 398.3v38.2M919.4 405.1l23.9 24.6M919.4 429.7l23.9 -24.6M932.6 719.6h36.0M950.6 700.5v38.2M938.6 707.2l23.9 24.6M938.6 731.9l23.9 -24.6M951.7 871.2h36.0M969.7 852.1v38.2M957.8 858.9l23.9 24.6M957.8 883.5l23.9 -24.6M970.9 402.4h36.0M988.9 383.3v38.2M977.0 390.1l23.9 24.6M977.0 414.7l23.9 -24.6M990.1 445.1h36.0M1008.1 426.1v38.2M996.1 432.8l23.9 24.6M996.1 457.5l23.9 -24.6M1009.3 441.3h36.0M1027.3 422.3v38.2M1015.3 429.0l23.9 24.6M1015.3 453.7l23.9 -24.6M1028.5 427.4h36.0M1046.5 408.4v38.2M1034.5 415.1l23.9 24.6M1034.5 439.8l23.9 -24.6M1047.6 422.5h36.0M1065.6 403.5v38.2M1053.7 410.2l23.9 24.6M1053.7 434.9l23.9 -24.6M1066.8 420.1h36.0M1084.8 401.0v38.2M1072.9 407.8l23.9 24.6M1072.9 432.4l23.9 -24.6M1086.0 425.0h36.0M1104.0 405.9v38.2M1092.0 412.7l23.9 24.6M1092.0 437.3l23.9 -24.6M1105.2 427.4h36.0M1123.2 408.4v38.2M1111.2 415.1l23.9 24.6M1111.2 439.8l23.9 -24.6M1124.4 431.3h36.0M1142.4 412.2v38.2M1130.4 418.9l23.9 24.6M1130.4 443.6l23.9 -24.6M1143.5 871.2h36.0M1161.5 852.1v38.2M1149.6 858.9l23.9 24.6M1149.6 883.5l23.9 -24.6M1162.7 421.2h36.0M1180.7 402.1v38.2M1168.8 408.9l23.9 24.6M1168.8 433.5l23.9 -24.6M1181.9 871.2h36.0M1199.9 852.1v38.2M1187.9 858.9l23.9 24.6M1187.9 883.5l23.9 -24.6M1201.1 398.9h36.0M1219.1 379.8v38.2M1207.1 386.5l23.9 24.6M1207.1 411.2l23.9 -24.6M1220.3 425.0h36.0M1238.3 405.9v38.2M1226.3 412.7l23.9 24.6M1226.3 437.3l23.9 -24.6M1239.4 425.0h36.0M1257.4 405.9v38.2M1245.5 412.7l23.9 24.6M1245.5 437.3l23.9 -24.6M1258.6 447.6h36.0M1276.6 428.5v38.2M1264.7 435.3l23.9 24.6M1264.7 459.9l23.9 -24.6M1277.8 436.2h36.0M1295.8 417.1v38.2M1283.8 423.8l23.9 24.6M1283.8 448.5l23.9 -24.6M1297.0 606.6h36.0M1315.0 587.5v38.2M1303.0 594.3l23.9 24.6M1303.0 618.9l23.9 -24.6M1316.2 483.8h36.0M1334.2 464.7v38.2M1322.2 471.5l23.9 24.6M1322.2 496.1l23.9 -24.6M1335.3 433.7h36.0M1353.3 414.6v38.2M1341.4 421.4l23.9 24.6M1341.4 446.0l23.9 -24.6M1354.5 430.4h36.0M1372.5 411.4v38.2M1360.6 418.1l23.9 24.6M1360.6 442.8l23.9 -24.6M1373.7 455.5h36.0M1391.7 436.4v38.2M1379.7 443.2l23.9 24.6M1379.7 467.8l23.9 -24.6M1392.9 402.4h36.0M1410.9 383.3v38.2M1398.9 390.1l23.9 24.6M1398.9 414.7l23.9 -24.6M1412.1 422.5h36.0M1430.1 403.5v38.2M1418.1 410.2l23.9 24.6M1418.1 434.9l23.9 -24.6M1431.2 426.4h36.0M1449.2 407.3v38.2M1437.3 414.0l23.9 24.6M1437.3 438.7l23.9 -24.6M1450.4 412.5h36.0M1468.4 393.4v38.2M1456.5 400.2l23.9 24.6M1456.5 424.8l23.9 -24.6M1469.6 540.7h36.0M1487.6 521.6v38.2M1475.6 528.4l23.9 24.6M1475.6 553.0l23.9 -24.6M1488.8 433.7h36.0M1506.8 414.6v38.2M1494.8 421.4l23.9 24.6M1494.8 446.0l23.9 -24.6M1508.0 411.9h36.0M1526.0 392.9v38.2M1514.0 399.6l23.9 24.6M1514.0 424.3l23.9 -24.6M1527.1 532.3h36.0M1545.1 513.2v38.2M1533.2 519.9l23.9 24.6M1533.2 544.6l23.9 -24.6M1546.3 634.9h36.0M1564.3 615.8v38.2M1552.4 622.6l23.9 24.6M1552.4 647.2l23.9 -24.6M1565.5 414.9h36.0M1583.5 395.8v38.2M1571.5 402.6l23.9 24.6M1571.5 427.2l23.9 -24.6M1584.7 423.6h36.0M1602.7 404.6v38.2M1590.7 411.3l23.9 24.6M1590.7 436.0l23.9 -24.6M1603.9 403.8h36.0M1621.9 384.7v38.2M1609.9 391.4l23.9 24.6M1609.9 416.1l23.9 -24.6M1623.0 653.4h36.0M1641.0 634.3v38.2M1629.1 641.1l23.9 24.6M1629.1 665.7l23.9 -24.6M1642.2 410.0h36.0M1660.2 390.9v38.2M1648.3 397.7l23.9 24.6M1648.3 422.3l23.9 -24.6M1661.4 407.0h36.0M1679.4 388.0v38.2M1667.4 394.7l23.9 24.6M1667.4 419.4l23.9 -24.6M1680.6 483.8h36.0M1698.6 464.7v38.2M1686.6 471.5l23.9 24.6M1686.6 496.1l23.9 -24.6M1699.8 397.5h36.0M1717.8 378.4v38.2M1705.8 385.2l23.9 24.6M1705.8 409.8l23.9 -24.6M1718.9 577.5h36.0M1736.9 558.4v38.2M1725.0 565.1l23.9 24.6M1725.0 589.8l23.9 -24.6M1738.1 871.2h36.0M1756.1 852.1v38.2M1744.2 858.9l23.9 24.6M1744.2 883.5l23.9 -24.6M1757.3 871.2h36.0M1775.3 852.1v38.2M1763.3 858.9l23.9 24.6M1763.3 883.5l23.9 -24.6M1776.5 401.3h36.0M1794.5 382.2v38.2M1782.5 389.0l23.9 24.6M1782.5 413.6l23.9 -24.6M1795.7 435.6h36.0M1813.7 416.5v38.2M1801.7 423.3l23.9 24.6M1801.7 447.9l23.9 -24.6M1814.8 871.2h36.0M1832.8 852.1v38.2M1820.9 858.9l23.9 24.6M1820.9 883.5l23.9 -24.6M1834.0 871.2h36.0M1852.0 852.1v38.2M1840.1 858.9l23.9 24.6M1840.1 883.5l23.9 -24.6M1853.2 406.2h36.0M1871.2 387.1v38.2M1859.2 393.9l23.9 24.6M1859.2 418.5l23.9 -24.6M1872.4 871.2h36.0M1890.4 852.1v38.2M1878.4 858.9l23.9 24.6M1878.4 883.5l23.9 -24.6M1891.6 400.8h36.0M1909.6 381.7v38.2M1897.6 388.4l23.9 24.6M1897.6 413.1l23.9 -24.6M1910.7 426.9h36.0M1928.7 407.8v38.2M1916.8 414.6l23.9 24.6M1916.8 439.2l23.9 -24.6M1929.9 438.9h36.0M1947.9 419.8v38.2M1936.0 426.6l23.9 24.6M1936.0 451.2l23.9 -24.6M1949.1 871.2h36.0M1967.1 852.1v38.2M1955.1 858.9l23.9 24.6M1955.1 883.5l23.9 -24.6M1968.3 600.6h36.0M1986.3 581.5v38.2M1974.3 588.3l23.9 24.6M1974.3 612.9l23.9 -24.6M1987.5 426.4h36.0M2005.5 407.3v38.2M1993.5 414.0l23.9 24.6M1993.5 438.7l23.9 -24.6M2006.6 388.8h36.0M2024.6 369.7v38.2M2012.7 376.5l23.9 24.6M2012.7 401.1l23.9 -24.6M2025.8 411.4h36.0M2043.8 392.3v38.2M2031.9 399.1l23.9 24.6M2031.9 423.7l23.9 -24.6M2045.0 432.3h36.0M2063.0 413.3v38.2M2051.0 420.0l23.9 24.6M2051.0 444.7l23.9 -24.6" fill="none" stroke-width="3.70"/>
</g>
</g>
<rect x="838" y="325.5" width="21" height="3.6" rx="1.5" fill="#262626"/>
<rect x="775" y="77" width="1345" height="155" fill="#fff" stroke="#262626" stroke-width="4"/>
<g stroke="#ff00ff" fill="#ff00ff">
<line x1="791.5" y1="120.0" x2="957.3" y2="120.0" stroke-width="4.0" stroke-linecap="round"/>
<ellipse cx="874.4" cy="120.0" rx="12.8" ry="14.0" stroke="none"/>
</g>
<g stroke="#ff00ff" fill="#ff00ff">
<line x1="791.5" y1="189.5" x2="957.3" y2="189.5" stroke-width="3.3" stroke-linecap="round"/>
<path d="M856.4 189.5h36.0M874.4 170.4v38.2M862.4 177.2l23.9 24.6M862.4 201.8l23.9 -24.6" fill="none" stroke-width="3.70"/>
</g>
<g stroke="#0000ff" fill="#0000ff">
<line x1="1443.3" y1="121.9" x2="1609.5" y2="121.9" stroke-width="4.0" stroke-linecap="round"/>
<ellipse cx="1526.4" cy="121.9" rx="12.8" ry="14.0" stroke="none"/>
</g>
<g stroke="#0000ff" fill="#0000ff">
<line x1="1443.3" y1="191.4" x2="1609.5" y2="191.4" stroke-width="3.8" stroke-linecap="round"/>
<path d="M1508.4 191.4h36.0M1526.4 172.3v38.2M1514.4 179.1l23.9 24.6M1514.4 203.7l23.9 -24.6" fill="none" stroke-width="3.70"/>
</g>
<text transform="translate(973.5 139.8)" font-size="66.0" text-anchor="start">GT1 of method 1</text>
<text transform="translate(973.5 212.8)" font-size="66.0" text-anchor="start">GT2 of method 1</text>
<text transform="translate(1631.5 145.7)" font-size="66.0" text-anchor="start">GT1 of method 2</text>
<text transform="translate(1635.6 212.8)" font-size="66.0" text-anchor="start">GT2 of method 2</text>
<text transform="translate(214.0 79.2) scale(1 1.030)" font-size="58.0" text-anchor="end">300</text>
<text transform="translate(214.0 215.5) scale(1 1.030)" font-size="58.0" text-anchor="end">250</text>
<text transform="translate(214.0 351.8) scale(1 1.030)" font-size="58.0" text-anchor="end">200</text>
<text transform="translate(214.0 488.1) scale(1 1.030)" font-size="58.0" text-anchor="end">150</text>
<text transform="translate(214.0 625.6) scale(1 1.030)" font-size="58.0" text-anchor="end">100</text>
<text transform="translate(213.4 760.7) scale(1 1.030)" font-size="58.0" text-anchor="end">50</text>
<text transform="translate(210.3 897.0) scale(1 1.030)" font-size="58.0" text-anchor="end">0</text>
<text transform="scale(1 1.03)" font-size="58"><tspan x="134.2" y="988.0" font-size="41">−</tspan><tspan x="213.4" y="993.4" text-anchor="end">50</tspan></text>
<text transform="translate(253.2 1093.2) scale(1 1.030)" font-size="58.0" text-anchor="middle">0</text>
<text transform="translate(621.7 1093.2) scale(1 1.030)" font-size="58.0" text-anchor="middle">5</text>
<text transform="translate(995.5 1093.2) scale(1 1.030)" font-size="58.0" text-anchor="middle">10</text>
<text transform="translate(1364.9 1093.2) scale(1 1.030)" font-size="58.0" text-anchor="middle">15</text>
<text transform="translate(1732.7 1093.2) scale(1 1.030)" font-size="58.0" text-anchor="middle">20</text>
<text transform="translate(2099.3 1093.2) scale(1 1.030)" font-size="58.0" text-anchor="middle">25</text>
<text transform="translate(1038.0 1147.8)" font-size="59.5" text-anchor="start">time[h]</text>
<text transform="translate(75.4 767.3) rotate(-90) scale(1 1.02)" font-size="59">Active power[kW]</text>
</svg></body></html>
